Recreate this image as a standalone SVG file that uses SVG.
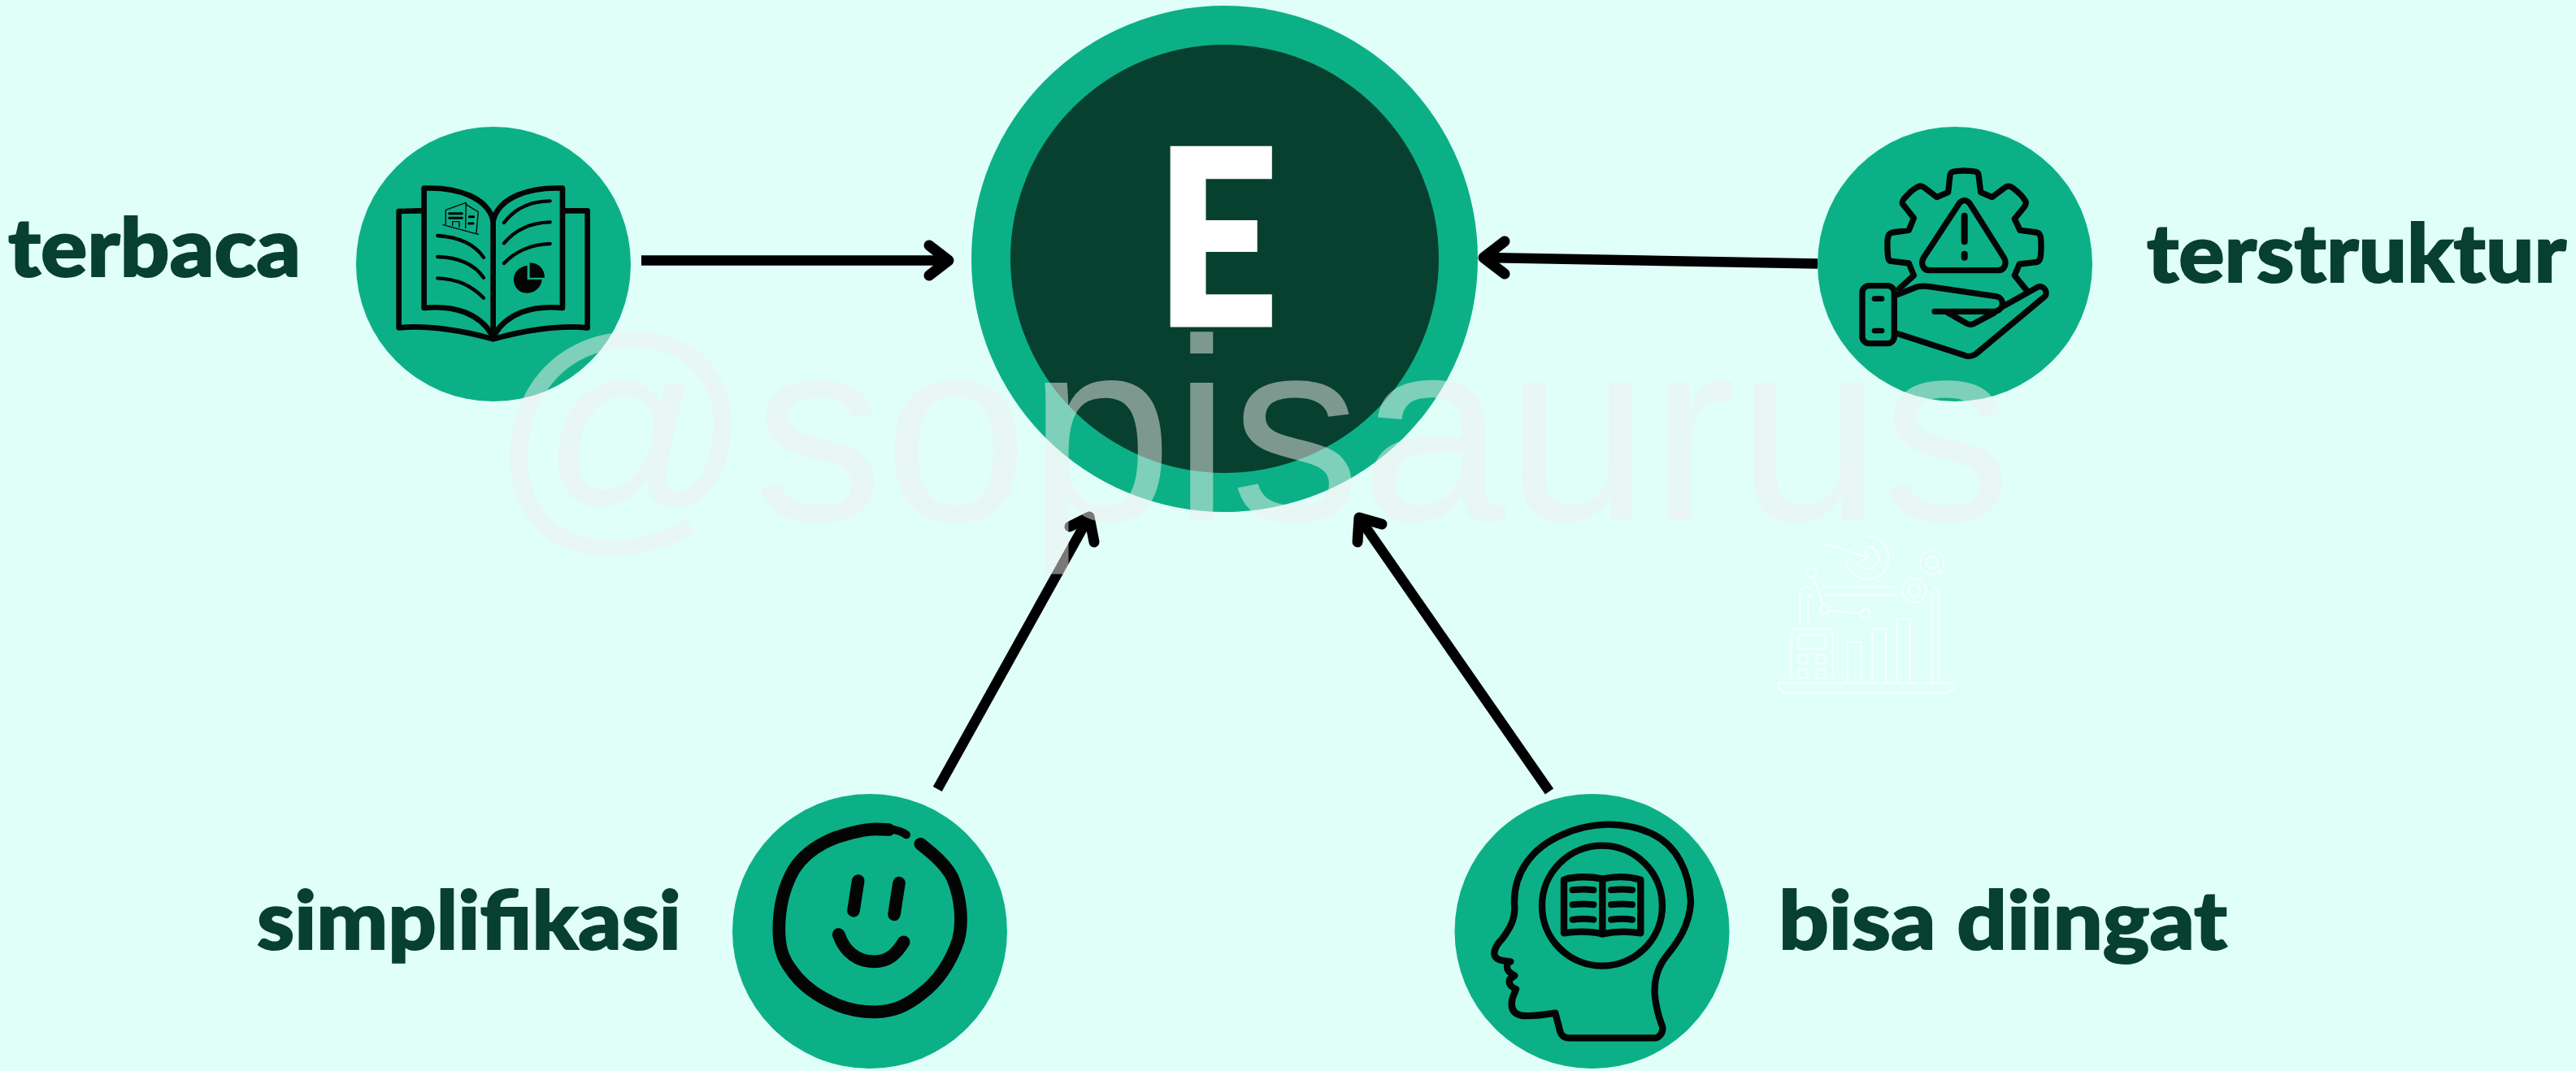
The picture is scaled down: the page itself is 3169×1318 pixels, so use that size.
<svg xmlns="http://www.w3.org/2000/svg" width="3169" height="1318" viewBox="0 0 3169 1318">
<style>
.bg{fill:#E0FFF9}
.teal{fill:#0CB087}
.dark{fill:#07402F}
.lbl{font-family:"Lato","Liberation Sans",sans-serif;font-weight:900;font-size:100px;fill:#07402F;stroke:#07402F;stroke-width:2}
.ico{fill:none;stroke:#020504;stroke-linecap:round;stroke-linejoin:round}
.conn{fill:none;stroke:#000;stroke-width:12.500}
.head{fill:none;stroke:#000;stroke-width:13;stroke-linecap:round;stroke-linejoin:round}
.wm{font-family:"Liberation Sans",Arial,sans-serif;font-size:320px;fill:#F0F0EE;opacity:.5}
.wi{fill:none;stroke:#F6FFFD;stroke-width:6;stroke-linecap:round;stroke-linejoin:round}
</style>
<rect class="bg" width="3169" height="1318"/>
<g id="connectors">
<path class="conn" d="M789 320.500H1164"/><path class="head" d="M1143 302L1167 320.500L1143 339"/>
<path class="conn" d="M2236 324.500L1828 317"/><path class="head" d="M1851 297L1825 317L1851 337"/>
<path class="conn" d="M1153.300 971L1338 639"/><path class="head" d="M1316 648L1340 636L1346 667"/>
<path class="conn" d="M1906 974L1674 640"/><path class="head" d="M1700 645L1672 637L1670 667"/>
</g>
<g id="node-center">
<circle class="teal" cx="1506.500" cy="318.500" r="311.500"/>
<circle class="dark" cx="1506.500" cy="318.500" r="263.500"/>
<text x="1497" y="400" text-anchor="middle" font-family="Lato,'Liberation Sans',sans-serif" font-weight="900" font-size="300" fill="#FFFFFF" stroke="#FFFFFF" stroke-width="5" textLength="150" lengthAdjust="spacingAndGlyphs">E</text>
</g>
<g id="node-terbaca">
<circle class="teal" cx="607" cy="325" r="169"/>
<g class="ico" transform="translate(420 140) scale(.33333)" stroke-width="20">
<path d="M295 358L212 360V790C320 780 450 800 560 832C670 800 800 780 908 790V358L825 358"/>
<path d="M560 395C540 310 430 270 305 275V717C420 705 510 740 555 815"/>
<path d="M560 395C580 310 690 270 816 275V717C700 705 610 740 565 815"/>
<path d="M560 395V825"/>
<g stroke-width="13">
<path d="M355 450C430 455 490 480 525 530M355 528C430 530 490 555 525 605M355 607C430 610 480 635 525 680"/>
<path d="M600 402C640 350 700 322 770 322M600 478C640 430 700 402 770 400M600 552C640 510 700 482 770 480"/>
</g>
<path fill="#020504" stroke="none" d="M686 560V612H740C738 640 715 662 685 662C655 662 636 640 636 612C636 585 655 565 686 560ZM695 550C730 550 750 575 750 605H695Z"/>
<g stroke-width="4">
<path d="M375 410L505 445M385 408V355L460 328L458 422M460 335L505 362L498 440M410 412V398H435V418"/>
<path stroke-width="9" d="M398 368H445M398 385H445M472 380H488M470 405H486"/>
</g>
</g>
</g>
<g id="node-terstruktur">
<circle class="teal" cx="2405" cy="325" r="169"/>
<g class="ico" transform="translate(2220 140) scale(.33333)" stroke-width="22">
<path d="M350 645L403 597L385 552L320 544C310 543 308 535 307 520C305 490 305 470 307 460C308 445 315 440 325 438L385 430L403 385L362 333C358 325 365 315 375 305C390 288 410 272 425 267C432 265 438 270 445 275L488 308L530 290L537 225C540 212 548 212 590 210C630 212 640 212 642 225L650 290L692 308L740 272C750 265 758 265 770 275C790 290 805 305 815 322C820 330 815 338 810 345L775 388L795 430L855 438C870 440 873 450 873 490C873 530 870 545 855 548L793 555L775 597L818 650"/>
<path d="M568 335C580 315 600 315 612 335L735 530C750 555 735 578 715 578H460C440 578 425 555 440 530Z"/>
<path stroke-width="24" d="M590 377V472M590 518V530"/>
<rect x="213" y="635" width="118" height="213" rx="25"/>
<path stroke-width="20" d="M258 683H285M258 801H285"/>
<path d="M342 668L400 645C420 635 440 635 460 638L710 675C735 680 740 720 705 730H480"/>
<path d="M735 710L860 640C885 630 905 665 880 680L640 880C625 895 605 898 590 892L345 812"/>
<path d="M530 735L600 775C610 780 615 780 625 775L700 735"/>
</g>
</g>
<g id="node-simplifikasi">
<circle class="teal" cx="1070" cy="1146" r="169"/>
<g class="ico" transform="translate(880 960) scale(.33333)" stroke-width="47">
<path d="M757 236C800 270 850 310 875 360C905 430 915 520 897 590C870 670 825 740 760 790C710 830 660 855 590 856C540 856 500 850 450 830C380 800 320 760 280 700C245 655 235 610 235 550C235 470 250 400 290 330C325 275 385 235 445 212C490 197 540 182 590 181C610 181 625 182 640 183"/>
<path stroke-width="30" d="M640 181C675 184 692 192 705 202"/>
<path d="M527 372L510 482M678 380L660 496M455 570C480 640 530 670 585 670C640 670 670 640 695 598"/>
</g>
</g>
<g id="node-bisa-diingat">
<circle class="teal" cx="1958.500" cy="1146" r="169"/>
<g class="ico" transform="translate(1770 960) scale(.33333)" stroke-width="25">
<path d="M430 860C380 868 330 875 300 868C270 860 265 835 272 805L285 772C270 765 255 755 262 735L280 722C260 712 245 700 255 675L265 670C235 668 205 665 205 640C205 620 220 600 235 585C260 550 280 520 280 470C270 350 340 250 460 200C560 155 680 150 780 195C880 240 925 340 930 450C925 540 880 600 840 650C800 700 795 750 797 790C800 830 810 870 825 910C830 930 815 952 795 952H480C460 952 450 940 447 925Z"/>
<circle cx="603" cy="464" r="222"/>
<path d="M462 368C500 355 560 355 604 365C650 355 700 355 745 368V565C700 558 650 558 604 568C560 558 500 558 462 565Z"/>
<path d="M604 365V568"/>
<path stroke-width="24" d="M494 406C520 403 550 403 571 406M494 460C520 457 550 457 571 460M494 515C520 512 550 512 571 515M636 406C662 403 692 403 714 406M636 460C662 457 692 457 714 460M636 515C662 512 692 512 714 515"/>
</g>
</g>
<g id="labels">
<text class="lbl" x="10" y="340" textLength="360" lengthAdjust="spacingAndGlyphs">terbaca</text>
<text class="lbl" x="2641" y="347" textLength="516" lengthAdjust="spacingAndGlyphs">terstruktur</text>
<text class="lbl" x="316" y="1168" textLength="522" lengthAdjust="spacingAndGlyphs">simplifikasi</text>
<text class="lbl" x="2188" y="1168" textLength="552" lengthAdjust="spacingAndGlyphs">bisa diingat</text>
</g>
<g id="watermark">
<text class="wm" x="602" y="640">@sopisaurus</text>
<g class="wi" transform="translate(2150 640) scale(.33333)">
<path d="M288 88L445 138L428 112M445 138L420 152"/>
<path d="M445 60C490 60 520 100 520 140C520 185 485 218 442 218C400 218 362 185 362 140"/>
<path d="M442 100C465 100 484 118 484 140C484 163 465 180 442 180C425 180 412 170 405 155"/>
<circle cx="236" cy="195" r="17"/><circle cx="285" cy="329" r="17"/><circle cx="435" cy="345" r="17"/>
<path d="M243 212L278 312M302 335L418 344"/>
<path d="M232 248H215C200 248 193 258 193 270V382M238 276C228 276 222 282 222 292V382"/>
<path d="M278 248H542M288 276H548"/>
<path d="M686 248C700 250 707 258 707 270V600M680 276V600"/>
<path d="M160 585V420C160 408 168 402 178 402H296C306 402 314 408 314 420V585"/>
<rect x="187" y="425" width="99" height="50" rx="4"/>
<rect x="187" y="499" width="33" height="31" rx="4"/><rect x="253" y="499" width="33" height="31" rx="4"/>
<rect x="187" y="553" width="33" height="31" rx="4"/><rect x="253" y="553" width="33" height="31" rx="4"/>
<path d="M369 602V450H420V602M460 602V401H511V602M550 602V365H600V602"/>
<path d="M113 603H763C763 622 750 638 730 638H146C126 638 113 622 113 603Z"/>
<circle cx="680" cy="156" r="22"/><circle cx="680" cy="156" r="44" stroke-dasharray="17 11"/>
<circle cx="615" cy="260" r="22"/><circle cx="615" cy="260" r="44" stroke-dasharray="17 11"/>
</g>
</g>
</svg>
